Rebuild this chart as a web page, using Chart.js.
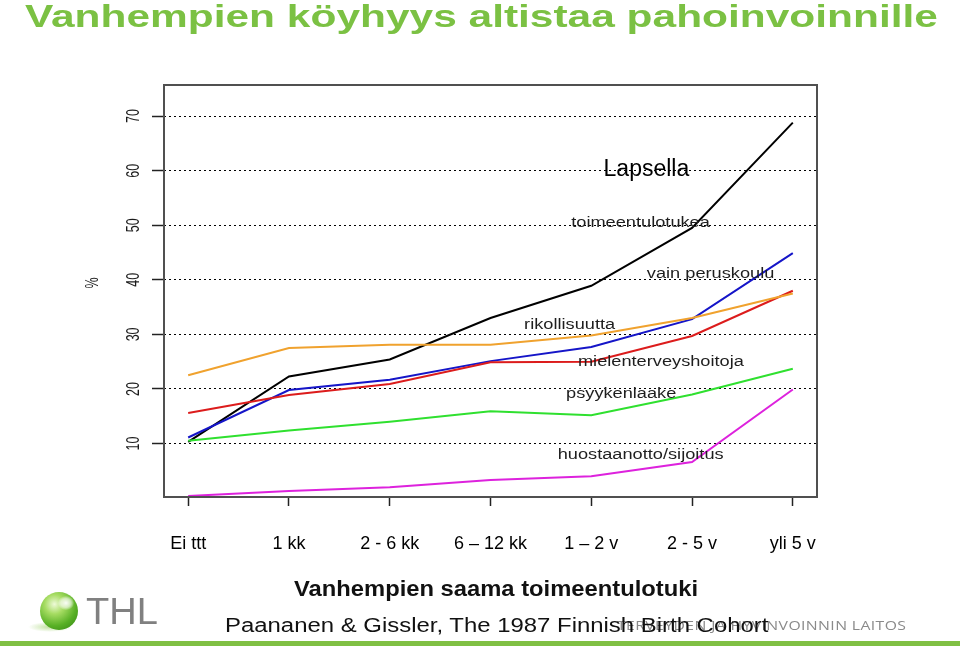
<!DOCTYPE html>
<html lang="fi">
<head>
<meta charset="utf-8">
<title>Vanhempien köyhyys altistaa pahoinvoinnille</title>
<script src="https://cdn.jsdelivr.net/npm/chart.js@4.4.1/dist/chart.umd.min.js"></script>
<style>
  html, body { margin: 0; padding: 0; background: #fff; }
  #wrap { position: relative; width: 960px; height: 646px; overflow: hidden; font-family: Arial, "Liberation Sans", sans-serif; }
  #myChart { position: absolute; left: 0; top: 0; }
  .txt { position: absolute; white-space: nowrap; line-height: 1; transform-origin: 0 0; }
  #title { left: 25px; top: 1px; font-size: 30.5px; font-weight: bold; color: #7bc143; }
  #xtitle { left: 294px; top: 578px; font-size: 22px; font-weight: bold; color: #111; }
  #source { left: 225px; top: 615px; font-size: 20px; color: #111; }
  #org { left: 617px; top: 620px; font-size: 12px; color: #8a8a8a; font-family: "Open Sans", "DejaVu Sans", sans-serif; letter-spacing: 0.3px; }
  #thl { left: 86px; top: 593px; font-size: 37px; color: #808080; }
  #ball { position: absolute; left: 40px; top: 592px; width: 38px; height: 38px; border-radius: 50%;
          background: radial-gradient(circle at 38% 32%, #eefad8 0%, #a6dc62 28%, #58b025 62%, #2f7f12 100%); }
  #flower { position: absolute; left: 58px; top: 596px; width: 16px; height: 14px; border-radius: 50%;
            background: radial-gradient(ellipse, rgba(255,255,255,0.95) 0%, rgba(255,255,255,0.6) 45%, rgba(255,255,255,0) 75%); }
  #shadow { position: absolute; left: 28px; top: 622px; width: 44px; height: 10px; border-radius: 50%;
            background: radial-gradient(ellipse, rgba(140,200,80,0.55) 0%, rgba(140,200,80,0) 70%); }
  #rule { position: absolute; left: 0; top: 641px; width: 960px; height: 5px; background: #80c044; }
</style>
</head>
<body>
<div id="wrap">
  <canvas id="myChart" width="960" height="646"></canvas>
  <div id="title" class="txt" data-w="913">Vanhempien köyhyys altistaa pahoinvoinnille</div>
  <div id="xtitle" class="txt" data-w="404">Vanhempien saama toimeentulotuki</div>
  <div id="org" class="txt" data-w="290">TERVEYDEN JA HYVINVOINNIN LAITOS</div>
  <div id="source" class="txt" data-w="543">Paananen &amp; Gissler, The 1987 Finnish Birth Cohort</div>
  <div id="shadow"></div>
  <div id="ball"></div>
  <div id="flower"></div>
  <div id="thl" class="txt" data-w="72">THL</div>
  <div id="rule"></div>
</div>
<script>
// categories on the x axis
const xLabels = ['Ei ttt', '1 kk', '2 - 6 kk', '6 – 12 kk', '1 – 2 v', '2 - 5 v', 'yli 5 v'];
const yTicks = [10, 20, 30, 40, 50, 60, 70];

// % of children
const toimeentulotukea = [10.3, 22.3, 25.4, 33.0, 38.9, 49.5, 68.8];
const vainPeruskoulu = [11.1, 19.8, 21.7, 25.1, 27.7, 32.8, 44.9];
const rikollisuutta = [22.5, 27.5, 28.1, 28.1, 29.8, 33.0, 37.5];
const mielenterveyshoitoja = [15.6, 18.9, 20.9, 24.9, 25.0, 29.7, 38.0];
const psyykenlaake = [10.5, 12.4, 14.0, 15.9, 15.2, 19.0, 23.7];
const huostaanotto = [0.4, 1.3, 2.0, 3.3, 4.0, 6.6, 19.9];

// text written into the plot (x = category number, y = %)
const notes = [
    { text: 'Lapsella', x: 5.547, y: 59.0, big: true },
    { text: 'toimeentulotukea', x: 5.489, y: 49.7 },
    { text: 'vain peruskoulu', x: 6.184, y: 40.25 },
    { text: 'rikollisuutta', x: 4.785, y: 30.9 },
    { text: 'mielenterveyshoitoja', x: 5.691, y: 24.17 },
    { text: 'psyykenlaake', x: 5.297, y: 18.43 },
    { text: 'huostaanotto/sijoitus', x: 5.49, y: 7.25 }
];

function points(values) {
    return values.map((v, i) => ({ x: i + 1, y: v }));
}

function series(values, color) {
    return {
        data: points(values),
        borderColor: color,
        borderWidth: 2,
        pointRadius: 0,
        tension: 0,
        fill: false
    };
}

const overlay = {
    id: 'overlay',
    afterDatasetsDraw(chart) {
        const { ctx, chartArea: a, scales } = chart;
        const xs = scales.x, ys = scales.y;
        ctx.save();

        // frame round the plot
        ctx.strokeStyle = '#505050';
        ctx.lineWidth = 2;
        ctx.strokeRect(a.left, a.top, a.right - a.left, a.bottom - a.top);

        // y tick labels, turned like in R
        ctx.fillStyle = '#1a1a1a';
        ctx.textAlign = 'center';
        ctx.textBaseline = 'middle';
        ctx.font = '12.5px Arial, "Liberation Sans", sans-serif';
        ys.ticks.forEach(t => {
            ctx.save();
            ctx.translate(134, ys.getPixelForValue(t.value));
            ctx.rotate(-Math.PI / 2);
            ctx.scale(1, 1.4);
            ctx.fillText(String(t.value), 0, 0);
            ctx.restore();
        });
        ctx.save();
        ctx.translate(93, 283);
        ctx.rotate(-Math.PI / 2);
        ctx.scale(1, 1.4);
        ctx.fillText('%', 0, 0);
        ctx.restore();

        // line names
        ctx.textBaseline = 'alphabetic';
        notes.forEach(n => {
            ctx.save();
            ctx.translate(xs.getPixelForValue(n.x), ys.getPixelForValue(n.y));
            if (n.big) {
                ctx.fillStyle = '#000';
                ctx.font = '23px Arial, "Liberation Sans", sans-serif';
            } else {
                ctx.fillStyle = '#1e1e1e';
                ctx.font = '14px Arial, "Liberation Sans", sans-serif';
                ctx.scale(1.3, 1);
            }
            ctx.fillText(n.text, 0, 0);
            ctx.restore();
        });
        ctx.restore();
    }
};

const ctx = document.getElementById('myChart');

new Chart(ctx, {
    type: 'line',
    data: {
        datasets: [
            series(rikollisuutta, '#f0a22e'),
            series(psyykenlaake, '#2fe02f'),
            series(huostaanotto, '#dd22dd'),
            series(mielenterveyshoitoja, '#dc1c1c'),
            series(vainPeruskoulu, '#1515c8'),
            series(toimeentulotukea, '#000000')
        ]
    },
    options: {
        responsive: false,
        animation: false,
        devicePixelRatio: 1,
        layout: { padding: { left: 0, right: 143, top: 85, bottom: 0 } },
        plugins: {
            legend: { display: false },
            tooltip: { enabled: false }
        },
        scales: {
            x: {
                type: 'linear',
                min: 0.76,
                max: 7.24,
                afterBuildTicks: s => { s.ticks = xLabels.map((_, i) => ({ value: i + 1 })); },
                afterFit: s => { s.height = 149; },
                ticks: {
                    autoSkip: false,
                    maxRotation: 0,
                    padding: 27,
                    color: '#000',
                    font: { family: 'Arial, "Liberation Sans", sans-serif', size: 18 },
                    callback: v => xLabels[v - 1]
                },
                grid: { drawOnChartArea: false, drawTicks: true, tickLength: 9, tickColor: '#222', tickWidth: 1.5 },
                border: { display: false }
            },
            y: {
                min: 0.2,
                max: 75.7,
                afterBuildTicks: s => { s.ticks = yTicks.map(v => ({ value: v })); },
                afterFit: s => { s.width = 164; },
                ticks: { display: false },
                grid: { color: '#000', lineWidth: 1, drawTicks: true, tickLength: 12, tickColor: '#222', tickWidth: 1.5 },
                border: { display: false, dash: [2, 3] }
            }
        }
    },
    plugins: [overlay]
});

// stretch slide texts to their width in the picture
document.querySelectorAll('.txt[data-w]').forEach(el => {
    const s = parseFloat(el.dataset.w) / el.offsetWidth;
    el.style.transform = 'scaleX(' + s + ')';
});
</script>
</body>
</html>
